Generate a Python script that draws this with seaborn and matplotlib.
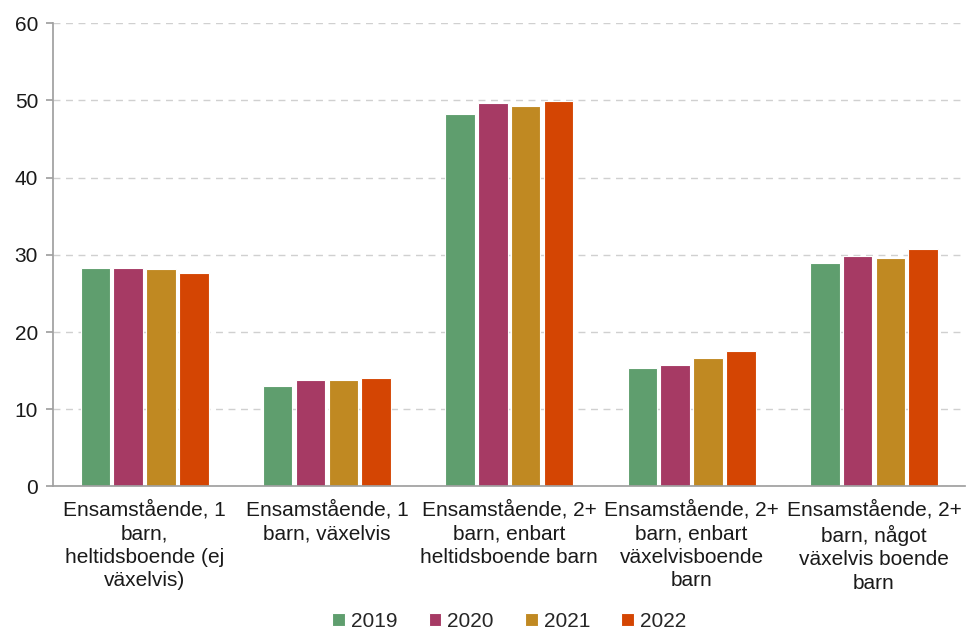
import matplotlib
matplotlib.use("Agg")
import matplotlib.pyplot as plt
import seaborn as sns
import pandas as pd

categories = [
    "Ensamstående, 1\nbarn,\nheltidsboende (ej\nväxelvis)",
    "Ensamstående, 1\nbarn, växelvis",
    "Ensamstående, 2+\nbarn, enbart\nheltidsboende barn",
    "Ensamstående, 2+\nbarn, enbart\nväxelvisboende\nbarn",
    "Ensamstående, 2+\nbarn, något\nväxelvis boende\nbarn",
]
years = ["2019", "2020", "2021", "2022"]
v2019 = [28.3, 12.95, 48.3, 15.4, 28.95]
v2020 = [28.35, 13.8, 49.65, 15.7, 29.9]
v2021 = [28.1, 13.8, 49.25, 16.6, 29.65]
v2022 = [27.7, 14.1, 49.9, 17.6, 30.7]
colors = ["#5f9e6e", "#a63a64", "#c08922", "#d44503"]

rows = []
for year, vals in zip(years, [v2019, v2020, v2021, v2022]):
    for cat, v in zip(categories, vals):
        rows.append({"Kategori": cat, "År": year, "Värde": v})
df = pd.DataFrame(rows)

sns.set_theme(style="white")
plt.rcParams["font.family"] = ["Liberation Sans", "DejaVu Sans"]

fig, ax = plt.subplots(figsize=(9.7, 6.3), dpi=100)
sns.barplot(data=df, x="Kategori", y="Värde", hue="År", palette=colors, saturation=1,
            width=0.72, gap=0.1, edgecolor="white", linewidth=0.8, ax=ax)

ax.set_ylim(0, 60)
ax.set_xlim(-0.5, 4.5)
ax.set_yticks(range(0, 61, 10))
ax.yaxis.grid(True, linestyle=(0, (5, 4)), color="#d0d0d0", linewidth=1)
ax.set_axisbelow(True)
for s in ["top", "right"]:
    ax.spines[s].set_visible(False)
ax.spines["left"].set_color("#a0a0a0")
ax.spines["bottom"].set_color("#a0a0a0")
ax.tick_params(axis="y", left=True, length=5, color="#a0a0a0", labelsize=15, labelcolor="#1a1a1a", pad=6)
ax.tick_params(axis="x", bottom=False, labelsize=15, labelcolor="#1a1a1a", pad=4)
for lbl in ax.get_xticklabels():
    lbl.set_linespacing(1.3)
ax.set_xlabel("")
ax.set_ylabel("")

ax.legend(loc="center", bbox_to_anchor=(0.5, -0.292), ncol=4, frameon=False,
          fontsize=15, handlelength=0.6, handleheight=0.6, handletextpad=0.3, columnspacing=1.5)

plt.subplots_adjust(left=0.055, right=0.995, top=0.963, bottom=0.228)
plt.savefig("out.png", dpi=100)
